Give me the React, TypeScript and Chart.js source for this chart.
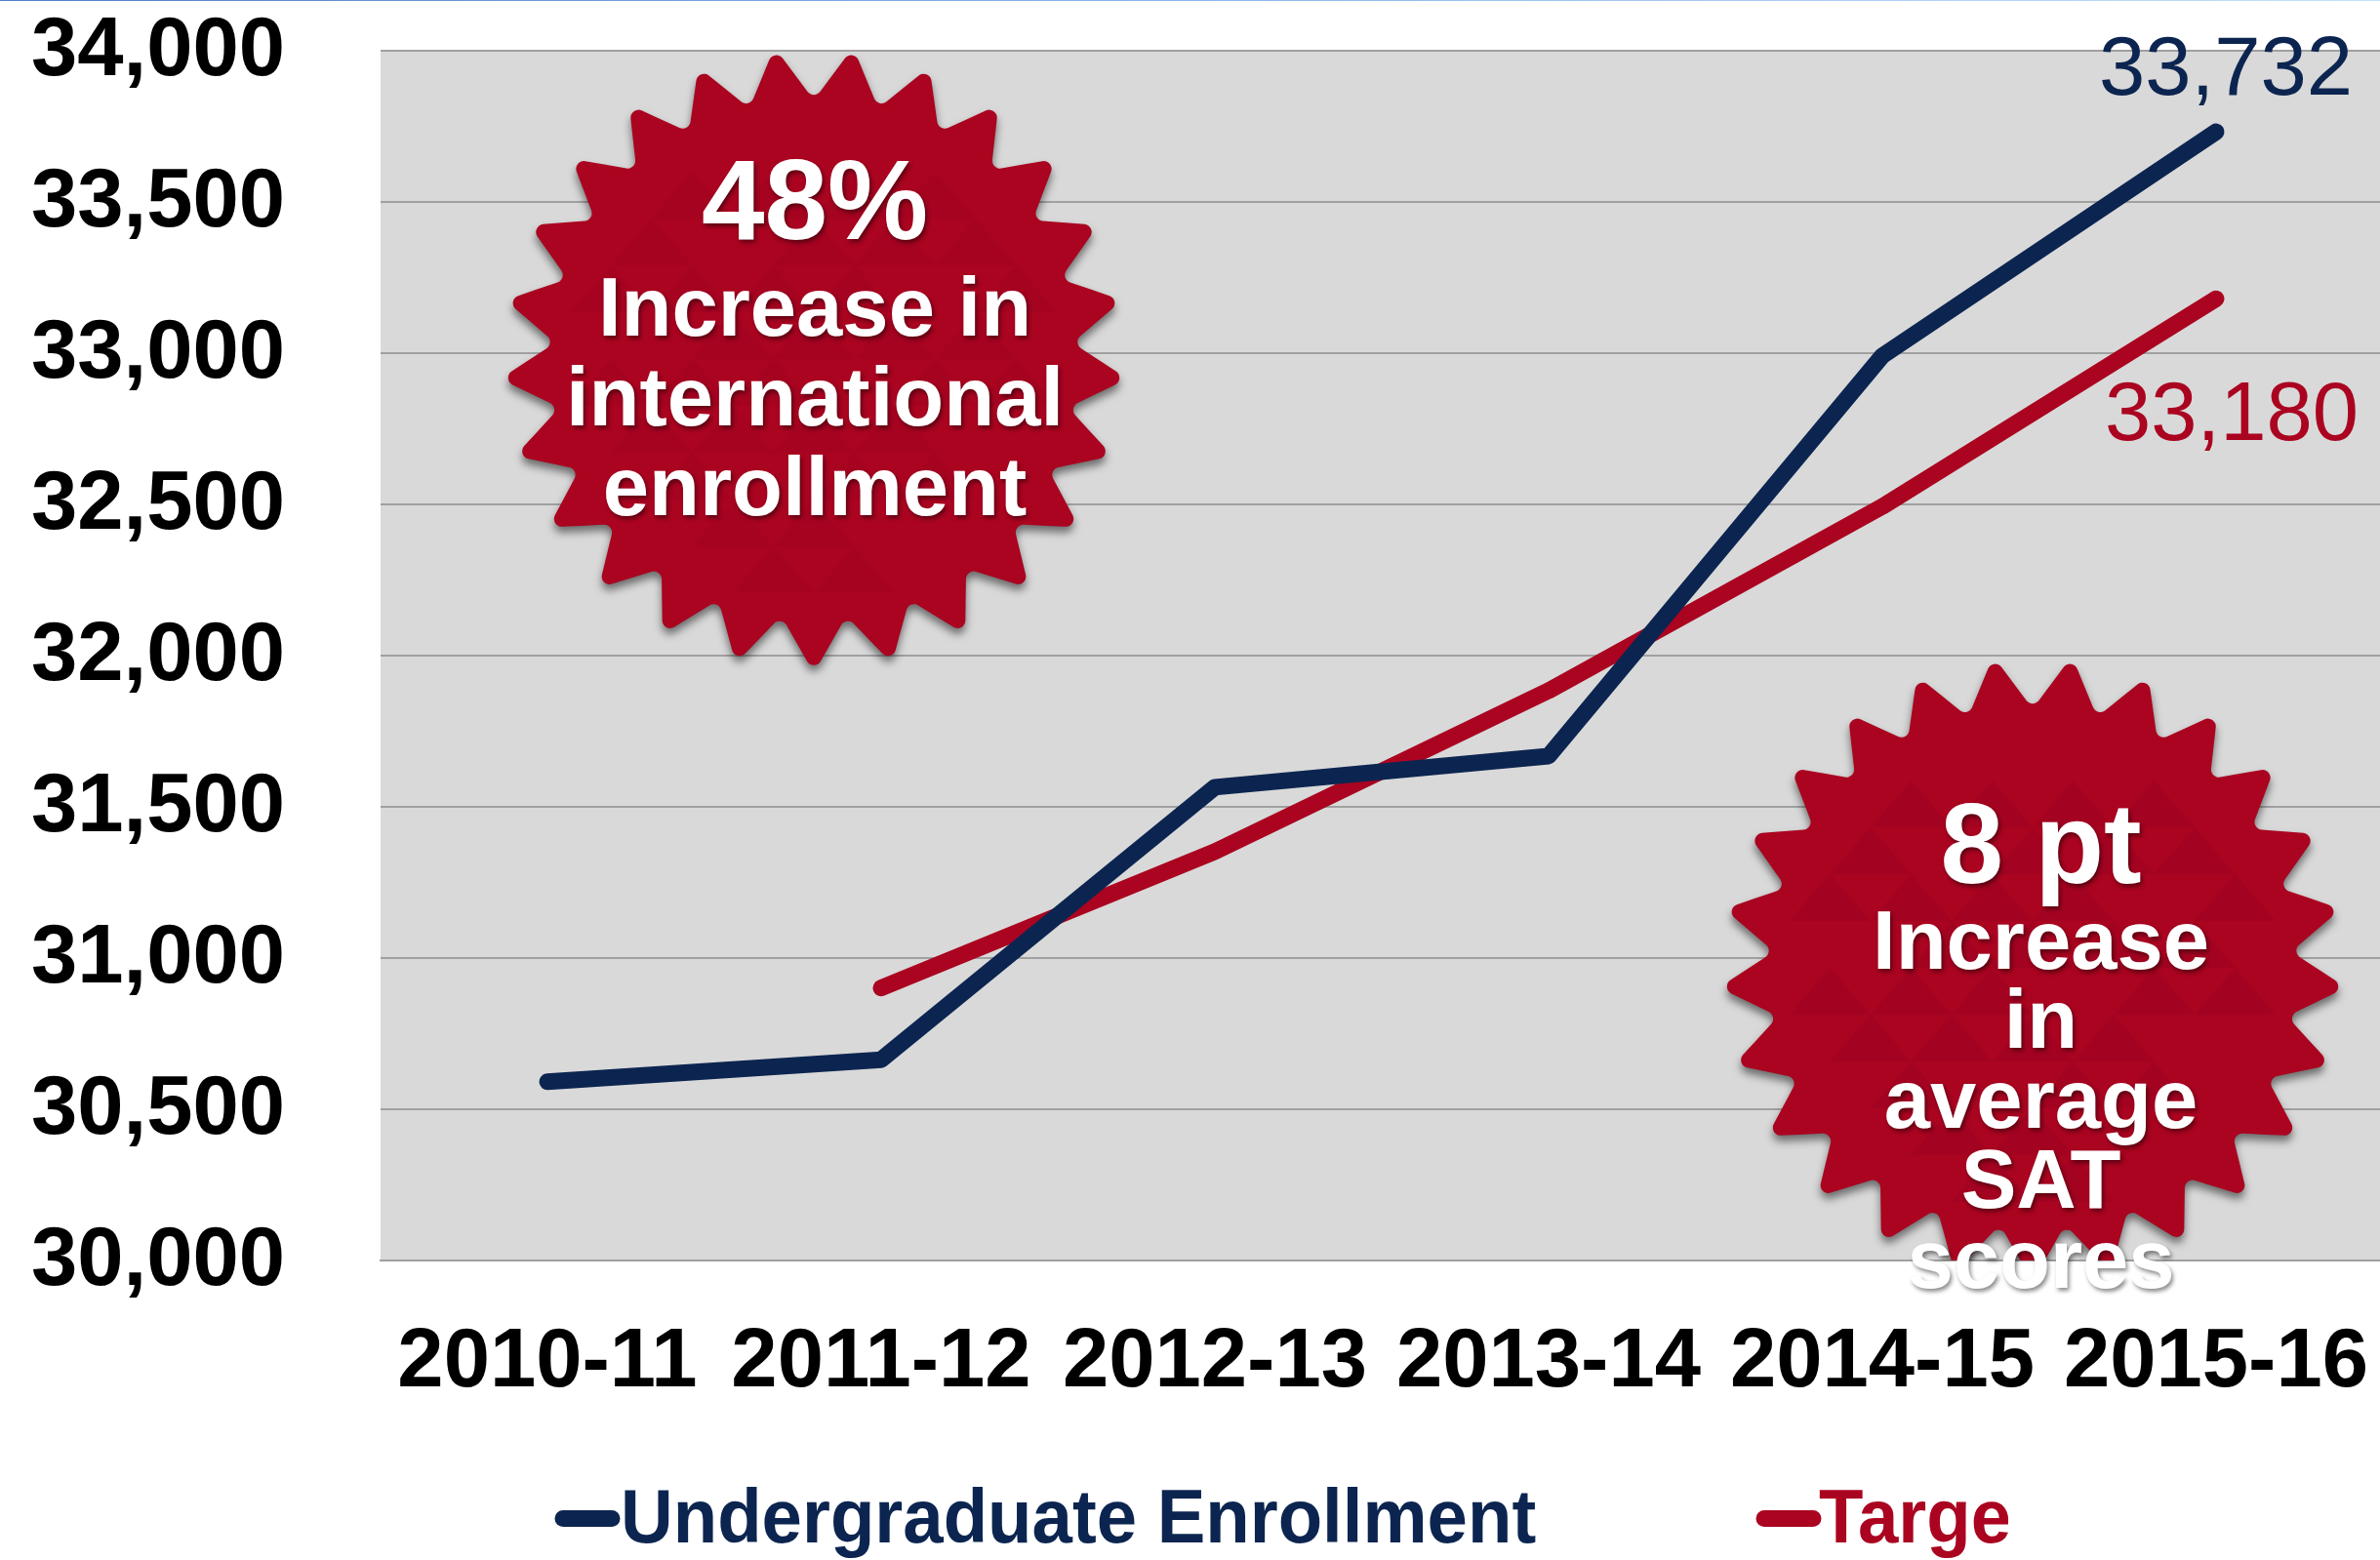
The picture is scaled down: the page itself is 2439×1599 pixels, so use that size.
import React, { useEffect, useRef } from "react";
import { Chart, registerables } from "chart.js";

Chart.register(...registerables);

const years = ["2010-11", "2011-12", "2012-13", "2013-14", "2014-15", "2015-16"];
const enrollment = [30591, 30664, 31565, 31668, 32991, 33732];
const target = [null, 30901, 31352, 31884, 32493, 33180];
const axisMin = 30000;
const axisMax = 34000;
const axisStep = 500;

const NAVY = "#0C2550";
const CRIMSON = "#AA0420";
const SANS = '"Liberation Sans", Arial, sans-serif';

const internationalBadge = ["48%", "Increase in", "international", "enrollment"];
const satBadge = ["8 pt", "Increase", "in", "average", "SAT", "scores"];

type Ctx = CanvasRenderingContext2D;

// Rounded many-pointed seal, one tip pointing straight down.
function sealPath(ctx: Ctx, cx: number, cy: number, outer: number, inner: number, tips: number, corner: number) {
  const n = tips * 2;
  const pts: [number, number][] = [];
  for (let i = 0; i < n; i++) {
    const a = Math.PI / 2 + (i * Math.PI) / tips;
    const r = i % 2 === 0 ? outer : inner;
    pts.push([cx + r * Math.cos(a), cy + r * Math.sin(a)]);
  }
  const mid = (p: [number, number], q: [number, number]) => [(p[0] + q[0]) / 2, (p[1] + q[1]) / 2];
  ctx.beginPath();
  const s = mid(pts[n - 1], pts[0]);
  ctx.moveTo(s[0], s[1]);
  for (let i = 0; i < n; i++) {
    const p = pts[i];
    const q = pts[(i + 1) % n];
    const m = mid(p, q);
    ctx.arcTo(p[0], p[1], m[0], m[1], corner);
    ctx.lineTo(m[0], m[1]);
  }
  ctx.closePath();
}

// Faint apex-up triangles on a staggered lattice in the middle of a seal.
function sealTexture(ctx: Ctx, cx: number, cy: number, radius: number, alpha: number) {
  const w = 83;
  const h = 48;
  ctx.save();
  ctx.fillStyle = `rgba(70,0,40,${alpha})`;
  for (let row = -6; row <= 6; row++) {
    for (let col = -4; col <= 4; col++) {
      const x = cx + col * w + (row % 2 === 0 ? 0 : w / 2);
      const y = cy + row * h;
      if (Math.hypot(x - cx, y - h / 2 - cy) > radius) continue;
      if (((col + 8) * 2 + (row + 8)) % 5 === 0) continue;
      ctx.beginPath();
      ctx.moveTo(x, y - h);
      ctx.lineTo(x + w / 2, y);
      ctx.lineTo(x - w / 2, y);
      ctx.closePath();
      ctx.fill();
    }
  }
  ctx.restore();
}

function drawSeal(ctx: Ctx, cx: number, cy: number, clipBottom: number | null, alpha: number) {
  ctx.save();
  if (clipBottom !== null) {
    ctx.beginPath();
    ctx.rect(cx - 400, cy - 400, 800, clipBottom - (cy - 400));
    ctx.clip();
  }
  ctx.save();
  ctx.shadowColor = "rgba(0,0,0,0.5)";
  ctx.shadowBlur = 9;
  ctx.shadowOffsetY = 6;
  ctx.shadowOffsetX = 0;
  sealPath(ctx, cx, cy, 322, 265.5, 25, 8);
  ctx.fillStyle = CRIMSON;
  ctx.fill();
  ctx.restore();
  sealTexture(ctx, cx, cy, 228, alpha);
  ctx.restore();
}

function drawBadgeLines(ctx: Ctx, lines: string[], x: number, baselines: number[], bigSize: number, size: number) {
  ctx.save();
  ctx.textAlign = "center";
  ctx.textBaseline = "alphabetic";
  ctx.fillStyle = "#FFFFFF";
  ctx.shadowColor = "rgba(0,0,0,0.45)";
  ctx.shadowBlur = 4;
  ctx.shadowOffsetX = 2;
  ctx.shadowOffsetY = 3;
  lines.forEach((line, i) => {
    ctx.font = `bold ${i === 0 ? bigSize : size}px ${SANS}`;
    ctx.fillText(line, x, baselines[i]);
  });
  ctx.restore();
}

const pageDecor = {
  id: "pageDecor",
  beforeDraw(chart: Chart) {
    const { ctx, chartArea: a, width } = chart;
    ctx.save();
    const strip = ctx.createLinearGradient(0, 0, width, 0);
    strip.addColorStop(0, "#4F80C8");
    strip.addColorStop(0.5, "#8DB8EC");
    strip.addColorStop(1, "#C2E2FF");
    ctx.fillStyle = strip;
    ctx.fillRect(0, 0, width, 1);
    ctx.fillStyle = "#D9D9D9";
    ctx.fillRect(a.left, a.top, a.right - a.left, a.bottom - a.top);
    ctx.restore();
  },
};

const badges = {
  id: "badges",
  afterDatasetsDraw(chart: Chart) {
    const { ctx, chartArea: a } = chart;
    drawSeal(ctx, 834, 368, null, 0.045);
    drawBadgeLines(ctx, internationalBadge, 835, [245, 344, 436, 528], 116, 85);
    drawSeal(ctx, 2083, 992, a.bottom, 0.07);
    drawBadgeLines(ctx, satBadge, 2091.5, [904.6, 992.7, 1074, 1155.5, 1238, 1320], 116, 85);
  },
};

const endLabels = {
  id: "endLabels",
  afterDatasetsDraw(chart: Chart) {
    const { ctx } = chart;
    const offsets = [
      { dx: 10, dy: -38 },
      { dx: 16, dy: 145 },
    ];
    ctx.save();
    ctx.font = `85px ${SANS}`;
    ctx.textAlign = "center";
    ctx.textBaseline = "alphabetic";
    chart.data.datasets.forEach((ds, i) => {
      const pts = chart.getDatasetMeta(i).data;
      const last = pts[pts.length - 1];
      const value = ds.data[pts.length - 1] as number;
      ctx.fillStyle = ds.borderColor as string;
      ctx.fillText(value.toLocaleString("en-US"), last.x + offsets[i].dx, last.y + offsets[i].dy);
    });
    ctx.restore();
  },
};

// Legend row along the bottom; the row is cut off at its right end.
const bottomLegend = {
  id: "bottomLegend",
  afterDraw(chart: Chart) {
    const { ctx } = chart;
    const entries = [
      { x0: 577, x1: 627, text: 636 },
      { x0: 1808, x1: 1858, text: 1864 },
    ];
    ctx.save();
    ctx.beginPath();
    ctx.rect(0, 1480, 2058, 119);
    ctx.clip();
    chart.data.datasets.forEach((ds, i) => {
      const e = entries[i];
      const color = ds.borderColor as string;
      ctx.strokeStyle = color;
      ctx.lineWidth = 17;
      ctx.lineCap = "round";
      ctx.beginPath();
      ctx.moveTo(e.x0, 1556.5);
      ctx.lineTo(e.x1, 1556.5);
      ctx.stroke();
      ctx.save();
      ctx.translate(e.text, 1581);
      ctx.scale(0.966, 1);
      ctx.font = `bold 77px ${SANS}`;
      ctx.textAlign = "left";
      ctx.textBaseline = "alphabetic";
      ctx.fillStyle = color;
      ctx.fillText(ds.label as string, 0, 0);
      ctx.restore();
    });
    ctx.restore();
  },
};

function clearPadding(scale: any) {
  scale.paddingTop = 0;
  scale.paddingBottom = 0;
  scale.paddingLeft = 0;
  scale.paddingRight = 0;
}

export default function App() {
  const ref = useRef<HTMLCanvasElement>(null);

  useEffect(() => {
    if (!ref.current) return;
    const chart = new Chart(ref.current, {
      type: "line",
      data: {
        labels: years,
        datasets: [
          { label: "Undergraduate Enrollment", data: enrollment, borderColor: NAVY, backgroundColor: NAVY },
          { label: "Target", data: target, borderColor: CRIMSON, backgroundColor: CRIMSON },
        ],
      },
      options: {
        responsive: false,
        animation: false,
        layout: { padding: { top: 52, right: 1, left: 0, bottom: 0 } },
        elements: {
          point: { radius: 0, hoverRadius: 0 },
          line: { borderWidth: 17, borderCapStyle: "round", borderJoinStyle: "round", tension: 0 },
        },
        plugins: { legend: { display: false }, tooltip: { enabled: false } },
        scales: {
          x: {
            type: "category",
            offset: true,
            grid: { display: false },
            border: { color: "#A0A0A0", width: 2 },
            afterFit(scale: any) {
              scale.height = 307;
              clearPadding(scale);
            },
            ticks: {
              autoSkip: false,
              maxRotation: 0,
              minRotation: 0,
              padding: 47,
              color: "#000000",
              font: { family: SANS, weight: "bold", size: 85 },
            },
          },
          y: {
            type: "linear",
            min: axisMin,
            max: axisMax,
            grid: { color: "#A0A0A0", lineWidth: 2, drawTicks: false },
            border: { display: false },
            afterFit(scale: any) {
              scale.width = 390;
              clearPadding(scale);
            },
            ticks: {
              stepSize: axisStep,
              padding: 98,
              labelOffset: 2,
              color: "#000000",
              font: { family: SANS, weight: "bold", size: 85 },
              callback: (v: any) => Number(v).toLocaleString("en-US"),
            },
          },
        },
      },
      plugins: [pageDecor, badges, endLabels, bottomLegend],
    });
    return () => chart.destroy();
  }, []);

  return (
    <div style={{ position: "absolute", left: 0, top: 0, width: 2439, height: 1599, overflow: "hidden", background: "#fff" }}>
      <canvas ref={ref} width={2443} height={1599} style={{ display: "block" }} />
    </div>
  );
}
